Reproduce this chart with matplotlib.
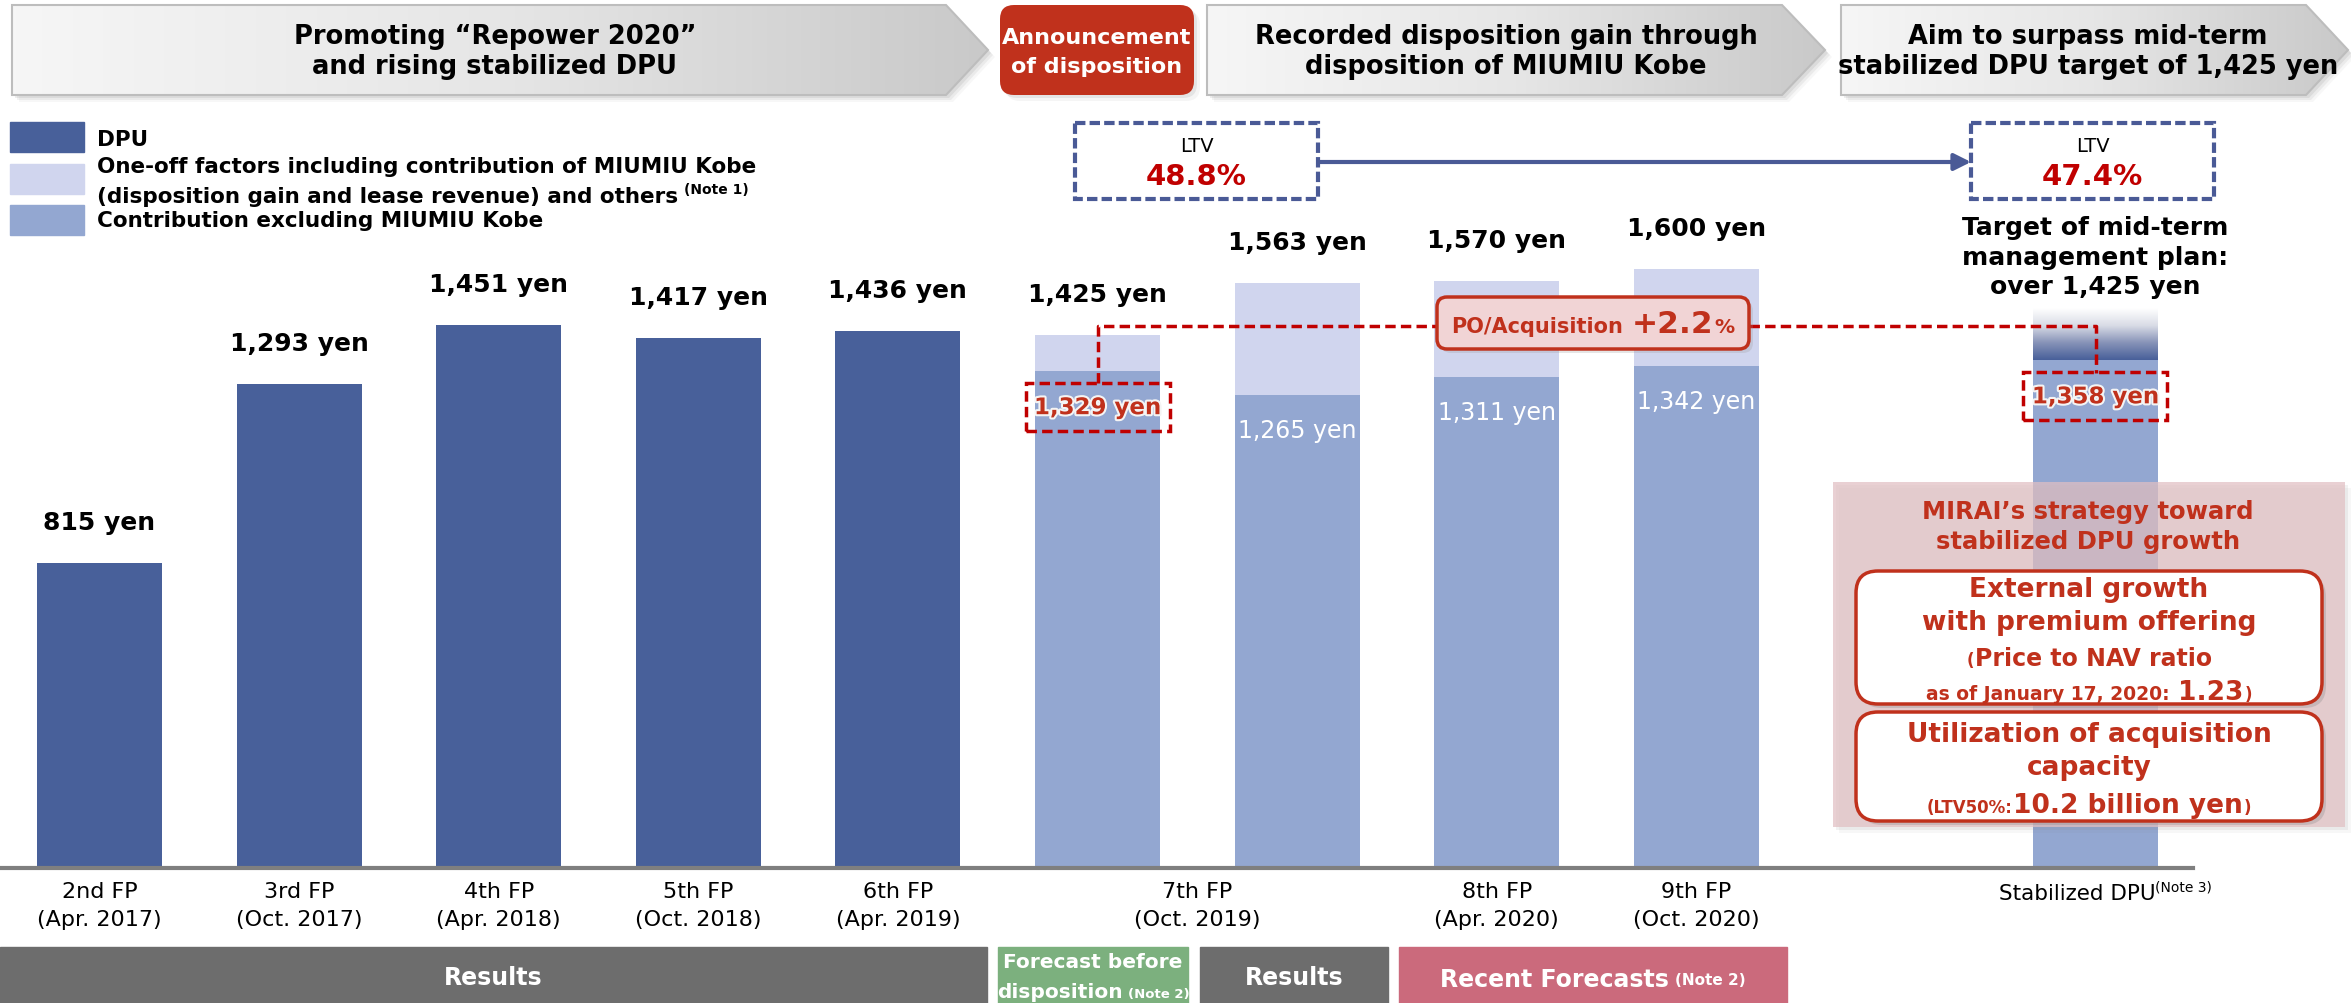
import numpy as np
import matplotlib
matplotlib.use('Agg')
import matplotlib.pyplot as plt
from matplotlib.patches import Polygon, Rectangle, FancyBboxPatch
from matplotlib.colors import LinearSegmentedColormap
import matplotlib.patheffects as pe

plt.rcParams['font.family'] = ['DejaVu Sans']

# ---- data ----
period_top = ['2nd FP', '3rd FP', '4th FP', '5th FP', '6th FP', '7th FP', '8th FP', '9th FP', 'Stabilized DPU']
period_bottom = ['(Apr. 2017)', '(Oct. 2017)', '(Apr. 2018)', '(Oct. 2018)', '(Apr. 2019)',
                 '(Oct. 2019)', '(Apr. 2020)', '(Oct. 2020)', '']
label_pos = [0, 1, 2, 3, 4, 5.5, 7, 8, 10]

dpu_pos = [0, 1, 2, 3, 4]
dpu = [815, 1293, 1451, 1417, 1436]

stack_pos = [5, 6, 7, 8]
stack_total = [1425, 1563, 1570, 1600]
stack_base = [1329, 1265, 1311, 1342]

stab_pos = 10
stab_dpu = 1358
stab_target = 1425
stab_fade = 1495

ltv_before = '48.8%'
ltv_after = '47.4%'
po_growth = 2.2

# ---- colours / layout ----
NAVY = '#48609a'
MID = '#93a7d1'
LIGHT = '#d0d5ee'
RED = '#c0311c'
LTV_RED = '#c00000'
BOXBLUE = '#4a5a96'

W, H = 2351, 1004
X0, STEP = 99.5, 199.6
BASE, PPY = 869, 0.3742
BAR_W = 125 / STEP

def xpx(i):
    return X0 + STEP * i

def ypx(v):
    return BASE - v * PPY

fig = plt.figure(figsize=(W / 100, H / 100), dpi=100)
ax = fig.add_axes([0, 0, 1, 1])
ax.axis('off')
ov = fig.add_axes([0, 0, 1, 1], zorder=3)
ov.axis('off')
ov.patch.set_alpha(0)

renderer = fig.canvas.get_renderer()

def rich(axx, xc, yc, parts, color='black', ha='center', zorder=10):
    # parts: (text, size, weight, raise_px, gap_before_px)
    big = max(p[1] for p in parts)
    yb = yc + 0.365 * big * 100 / 72
    objs = []
    for s, fs, wt, dy, gap in parts:
        t = axx.text(0, yb - dy, s, fontsize=fs, fontweight=wt, color=color,
                     ha='left', va='baseline', zorder=zorder)
        objs.append((t, gap))
    widths = [t.get_window_extent(renderer).width + g for t, g in objs]
    x = xc - sum(widths) / 2 if ha == 'center' else xc
    for (t, g), w in zip(objs, widths):
        t.set_x(x + g)
        x += w
    return objs

# ---- bars ----
ax.bar(dpu_pos, dpu, width=BAR_W, color=NAVY, zorder=2)
ax.bar(stack_pos, stack_base, width=BAR_W, color=MID, zorder=2)
ax.bar(stack_pos, np.subtract(stack_total, stack_base), bottom=stack_base,
       width=BAR_W, color=LIGHT, zorder=2)
ax.bar(stab_pos, stab_dpu, width=BAR_W, color=MID, zorder=2)
fade = LinearSegmentedColormap.from_list('fade', [NAVY, '#8793b8', '#d9dce6', '#ffffff'])
ax.imshow(np.linspace(0, 1, 200)[:, None], cmap=fade, origin='lower', aspect='auto',
          extent=(stab_pos - BAR_W / 2, stab_pos + BAR_W / 2, stab_dpu, stab_fade), zorder=2)

ax.set_xlim(-X0 / STEP, (W - X0) / STEP)
ax.set_ylim(-(H - BASE) / PPY, BASE / PPY)

# totals above bars
for p, v in list(zip(dpu_pos, dpu)) + list(zip(stack_pos, stack_total)):
    ax.text(p, v + 41 / PPY, f'{v:,} yen', ha='center', va='center',
            fontsize=18, fontweight='bold', zorder=5)

# base values inside stacked bars
for p, v in zip(stack_pos[1:], stack_base[1:]):
    ax.text(p, v - 35 / PPY, f'{v:,} yen', ha='center', va='center',
            fontsize=17, color='white', zorder=5)

# red dashed highlights for 7th FP forecast and stabilized DPU
halo = [pe.withStroke(linewidth=3, foreground='#f4f4f4')]
for p, v in [(stack_pos[0], stack_base[0]), (stab_pos, stab_dpu)]:
    ax.add_patch(Rectangle((p - 72 / STEP, v - 60 / PPY), 144 / STEP, 48 / PPY,
                           fill=False, ec=LTV_RED, lw=2.5, ls=(0, (3, 1.5)), zorder=6))
    ax.text(p, v - 37 / PPY, f'{v:,} yen', ha='center', va='center', fontsize=16.5,
            fontweight='bold', color=RED, path_effects=halo, zorder=6)

# connector between the two highlights, via the PO box
cy = 327
x_a, x_b = xpx(stack_pos[0]), xpx(stab_pos)
po_l, po_r = 1437, 1749
ov.plot([x_a, x_a, po_l], [ypx(stack_base[0]) + 12, cy, cy], color=LTV_RED, lw=2.5,
        ls=(0, (3, 1.5)), zorder=6)
ov.plot([po_r, x_b, x_b], [cy, cy, ypx(stab_dpu) + 13], color=LTV_RED, lw=2.5,
        ls=(0, (3, 1.5)), zorder=6)
ov.add_patch(FancyBboxPatch((po_l + 4, 302), po_r - po_l, 52, boxstyle='round,pad=0,rounding_size=10',
                            fc='#999999', ec='none', alpha=0.25, zorder=6))
ov.add_patch(FancyBboxPatch((po_l, 298), po_r - po_l, 52, boxstyle='round,pad=0,rounding_size=10',
                            fc='#f1d4d5', ec=RED, lw=2.5, zorder=7))
rich(ov, (po_l + po_r) / 2, 322, [('PO/Acquisition', 15, 'bold', 0, 0),
                                   (f'+{po_growth}', 22.5, 'bold', 0, 9),
                                   ('%', 14.5, 'bold', 0, 1)], color=RED)

# baseline
ov.plot([0, 2193], [BASE, BASE], color='#7f7f7f', lw=3, zorder=4)

# period labels
for top, bot, p in zip(period_top, period_bottom, label_pos):
    if bot:
        ov.text(xpx(p), 892, top, ha='center', va='center', fontsize=16)
        ov.text(xpx(p), 920, bot, ha='center', va='center', fontsize=16)
    else:
        rich(ov, xpx(p) + 10, 892, [(top, 15.5, 'normal', 0, 0), ('(Note 3)', 10, 'normal', 8, 0)])

# ---- header banners ----
banner_cmap = LinearSegmentedColormap.from_list('banner', ['#f6f6f6', '#e6e6e6', '#c9c9c9'])

def banner(x0, x1, tip, y0, y1, lines, xc):
    ym = (y0 + y1) / 2
    pts = [(x0, y0), (x1, y0), (tip, ym), (x1, y1), (x0, y1)]
    for k, a in [(7, 0.06), (5, 0.1), (3, 0.14)]:
        ov.add_patch(Polygon([(x + k, y + k) for x, y in pts], closed=True, fc='#808080',
                             ec='none', alpha=a, zorder=1))
    poly = Polygon(pts, closed=True, fc='none', ec='#bdbdbd', lw=1.5, zorder=3)
    ov.add_patch(poly)
    im = ov.imshow(np.linspace(0, 1, 256)[None, :], cmap=banner_cmap, aspect='auto',
                   extent=(x0, tip, y1, y0), zorder=2)
    im.set_clip_path(poly)
    for y, s in zip([37, 67], lines):
        ov.text(xc, y, s, ha='center', va='center', fontsize=18.5, fontweight='bold', zorder=4)

banner(12, 946, 988, 6, 96, ['Promoting “Repower 2020”', 'and rising stabilized DPU'], 495)
banner(1207, 1782, 1825, 6, 96, ['Recorded disposition gain through', 'disposition of MIUMIU Kobe'], 1506)
banner(1841, 2306, 2348, 6, 96, ['Aim to surpass mid-term', 'stabilized DPU target of 1,425 yen'], 2088)

for k, a in [(6, 0.08), (3, 0.14)]:
    ov.add_patch(FancyBboxPatch((1000 + k, 6 + k), 194, 90, boxstyle='round,pad=0,rounding_size=14',
                                fc='#808080', ec='none', alpha=a, zorder=1))
ov.add_patch(FancyBboxPatch((1000, 6), 194, 90, boxstyle='round,pad=0,rounding_size=14',
                            fc=RED, ec='none', zorder=3))
ov.text(1097, 38, 'Announcement', ha='center', va='center', fontsize=16, fontweight='bold', color='white', zorder=4)
ov.text(1097, 67, 'of disposition', ha='center', va='center', fontsize=16, fontweight='bold', color='white', zorder=4)

# ---- legend ----
for y0, c in [(123, NAVY), (165, LIGHT), (206, MID)]:
    ov.add_patch(Rectangle((10, y0), 74, 30, color=c, zorder=3))
ov.text(97, 140, 'DPU', ha='left', va='center', fontsize=15.5, fontweight='bold')
ov.text(97, 167, 'One-off factors including contribution of MIUMIU Kobe', ha='left', va='center',
        fontsize=15.5, fontweight='bold')
rich(ov, 97, 195, [('(disposition gain and lease revenue) and others', 15.5, 'bold', 0, 0),
                   ('(Note 1)', 10, 'bold', 9, 6)], ha='left')
ov.text(97, 221, 'Contribution excluding MIUMIU Kobe', ha='left', va='center', fontsize=15.5, fontweight='bold')

# ---- LTV boxes ----
for xl, xr, val in [(1075, 1318, ltv_before), (1971, 2214, ltv_after)]:
    ov.add_patch(Rectangle((xl, 124), xr - xl, 76, fc='white', ec=BOXBLUE, lw=3,
                           ls=(0, (2.5, 1)), zorder=5))
    ov.text((xl + xr) / 2, 147, 'LTV', ha='center', va='center', fontsize=14, zorder=6)
    ov.text((xl + xr) / 2, 177, val, ha='center', va='center', fontsize=21, fontweight='bold',
            color=LTV_RED, zorder=6)
ov.annotate('', xy=(1971, 163), xytext=(1318, 163),
            arrowprops=dict(arrowstyle='-|>', color=BOXBLUE, lw=3, mutation_scale=25,
                            shrinkA=0, shrinkB=0), zorder=5)

# target annotation over stabilized bar
for y, s in zip([228, 258, 287], ['Target of mid-term', 'management plan:', f'over {stab_target:,} yen']):
    ov.text(xpx(stab_pos), y, s, ha='center', va='center', fontsize=18, fontweight='bold', zorder=6)

# ---- strategy box ----
for k, a in [(6, 0.06), (3, 0.1)]:
    ov.add_patch(Rectangle((1833 + k, 483 + k), 512, 345, fc='#808080', ec='none', alpha=a, zorder=5))
ov.add_patch(Rectangle((1833, 483), 512, 345, fc=(225 / 255, 191 / 255, 194 / 255), ec='none',
                       alpha=0.72, zorder=6))
ov.text(2088, 512, 'MIRAI’s strategy toward', ha='center', va='center', fontsize=17.5,
        fontweight='bold', color=RED, zorder=8)
ov.text(2088, 542, 'stabilized DPU growth', ha='center', va='center', fontsize=17.5,
        fontweight='bold', color=RED, zorder=8)
for y0, h in [(572, 133), (713, 109)]:
    ov.add_patch(FancyBboxPatch((1856 + 4, y0 + 4), 466, h, boxstyle='round,pad=0,rounding_size=22',
                                fc='#888888', ec='none', alpha=0.3, zorder=7))
    ov.add_patch(FancyBboxPatch((1856, y0), 466, h, boxstyle='round,pad=0,rounding_size=22',
                                fc='white', ec=RED, lw=2.5, zorder=7))
ov.text(2089, 590, 'External growth', ha='center', va='center', fontsize=19, fontweight='bold', color=RED, zorder=8)
ov.text(2089, 623, 'with premium offering', ha='center', va='center', fontsize=19, fontweight='bold', color=RED, zorder=8)
rich(ov, 2089, 657, [('(', 12, 'bold', 0, 0), ('Price to NAV ratio', 17, 'bold', 0, 1)], color=RED)
rich(ov, 2089, 690, [('as of January 17, 2020:', 13.5, 'bold', 0, 0), ('1.23', 19, 'bold', 0, 8),
                     (')', 12, 'bold', 0, 1)], color=RED)
ov.text(2089, 735, 'Utilization of acquisition', ha='center', va='center', fontsize=19, fontweight='bold', color=RED, zorder=8)
ov.text(2089, 768, 'capacity', ha='center', va='center', fontsize=19, fontweight='bold', color=RED, zorder=8)
rich(ov, 2089, 803, [('(LTV50%:', 12, 'bold', 0, 0), ('10.2 billion yen', 19, 'bold', 0, 1),
                     (')', 12, 'bold', 0, 1)], color=RED)

# ---- bottom status bars ----
status = [(0, 987, '#6d6d6d'), (998, 1188, '#7cb07e'), (1200, 1388, '#6d6d6d'), (1399, 1787, '#cb6a7c')]
for xl, xr, c in status:
    ov.add_patch(Rectangle((xl, 948), xr - xl, 56, color=c, zorder=3))
ov.text(493, 978, 'Results', ha='center', va='center', fontsize=17, fontweight='bold', color='white', zorder=4)
ov.text(1294, 978, 'Results', ha='center', va='center', fontsize=17, fontweight='bold', color='white', zorder=4)
ov.text(1093, 963, 'Forecast before', ha='center', va='center', fontsize=14.5, fontweight='bold', color='white', zorder=4)
rich(ov, 1093, 991, [('disposition', 14.5, 'bold', 0, 0), ('(Note 2)', 9.5, 'bold', 0, 5)], color='white')
rich(ov, 1593, 978, [('Recent Forecasts', 17, 'bold', 0, 0), ('(Note 2)', 11, 'bold', 2, 6)], color='white')

ov.set_xlim(0, W)
ov.set_ylim(H, 0)

fig.savefig('out.png', dpi=100)
